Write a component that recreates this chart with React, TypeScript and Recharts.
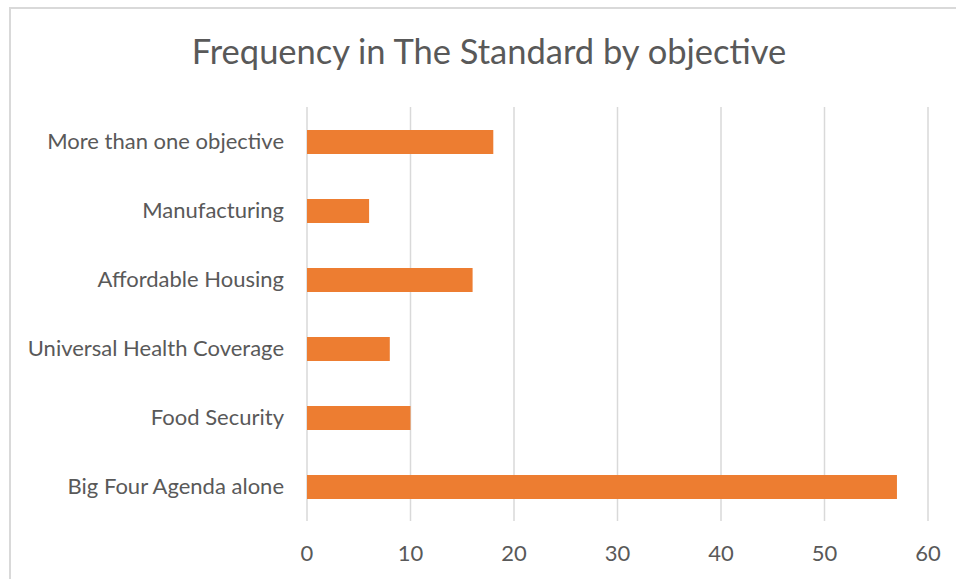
import React from "react";
import { BarChart, Bar, XAxis, YAxis, CartesianGrid } from "recharts";

const categories = [
  "More than one objective",
  "Manufacturing",
  "Affordable Housing",
  "Universal Health Coverage",
  "Food Security",
  "Big Four Agenda alone",
];
const frequencies = [18, 6, 16, 8, 10, 57];
const xTicks = [0, 10, 20, 30, 40, 50, 60];

const rows = categories.map((name, i) => ({ name, value: frequencies[i] }));

const FONT = "Lato, 'Open Sans', sans-serif";
const TEXT = "#595959";

export default function App() {
  return (
    <div
      style={{
        position: "absolute",
        left: 0,
        top: 0,
        width: 956,
        height: 579,
        overflow: "hidden",
        background: "#ffffff",
        fontFamily: FONT,
      }}
    >
      <div
        style={{
          position: "absolute",
          left: 9,
          top: 7,
          width: 980,
          height: 620,
          border: "2px solid #d9d9d9",
          boxSizing: "border-box",
        }}
      />
      <div
        style={{
          position: "absolute",
          left: 0,
          width: 978,
          top: 28,
          textAlign: "center",
          fontSize: 34.5,
          color: TEXT,
          lineHeight: "46px",
        }}
      >
        Frequency in The Standard by objective
      </div>
      <div style={{ position: "absolute", left: 0, top: 0 }}>
        <BarChart
          width={956}
          height={579}
          layout="vertical"
          data={rows}
          margin={{ top: 107, right: 28, bottom: 28, left: 0 }}
          barCategoryGap={0}
        >
          <CartesianGrid horizontal={false} stroke="#d9d9d9" strokeWidth={1.5} />
          <XAxis
            type="number"
            domain={[0, 60]}
            ticks={xTicks}
            interval={0}
            height={30}
            axisLine={false}
            tickLine={false}
            tickSize={0}
            tickMargin={24}
            tick={{ fill: TEXT, fontSize: 22, fontFamily: FONT }}
          />
          <YAxis
            type="category"
            dataKey="name"
            width={307}
            axisLine={false}
            tickLine={false}
            tickSize={0}
            tickMargin={23}
            tick={{ fill: TEXT, fontSize: 22, fontFamily: FONT }}
          />
          <Bar dataKey="value" fill="#ED7D31" barSize={24} isAnimationActive={false} />
        </BarChart>
      </div>
    </div>
  );
}
